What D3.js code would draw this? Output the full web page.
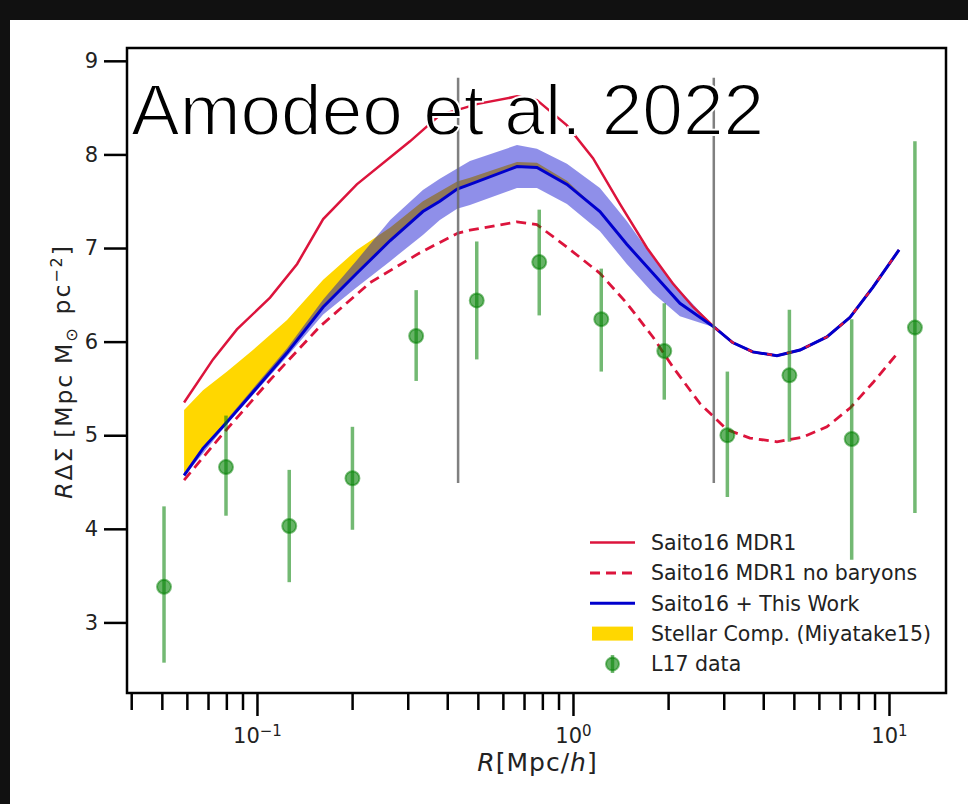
<!DOCTYPE html>
<html><head><meta charset="utf-8">
<script src="https://cdn.jsdelivr.net/npm/d3@7"></script>
<style>
html,body{margin:0;padding:0;background:#111;overflow:hidden;}
svg{display:block;}
</style></head><body>
<svg id="chart" width="968" height="804"></svg>
<script>
// ---------------- data ----------------
const saitoR = [0.0588, 0.0726, 0.0864, 0.110, 0.134, 0.162, 0.207, 0.305, 0.379, 0.50, 0.665, 0.769, 0.957, 1.157, 1.409, 1.715, 2.07, 2.40, 2.81, 3.20, 3.71, 4.42, 5.23, 6.36, 7.53, 8.89, 10.76];
const saitoV = [5.35, 5.81, 6.13, 6.47, 6.83, 7.31, 7.68, 8.14, 8.42, 8.54, 8.62, 8.58, 8.31, 7.96, 7.47, 7.00, 6.62, 6.37, 6.15, 5.99, 5.89, 5.85, 5.91, 6.05, 6.26, 6.58, 6.98];

const noBarR = [0.0588, 0.0764, 0.110, 0.158, 0.228, 0.328, 0.379, 0.433, 0.472, 0.665, 0.769, 0.957, 1.217, 1.48, 1.79, 2.07, 2.52, 3.07, 3.63, 4.42, 5.34, 6.36, 7.53, 8.89, 10.66];
const noBarV = [4.52, 4.98, 5.59, 6.16, 6.63, 6.95, 7.06, 7.16, 7.19, 7.28, 7.25, 7.01, 6.73, 6.41, 6.05, 5.73, 5.34, 5.06, 4.97, 4.93, 4.98, 5.09, 5.29, 5.56, 5.88];

const workR = [0.0588, 0.0675, 0.0804, 0.0971, 0.1245, 0.162, 0.207, 0.264, 0.335, 0.379, 0.430, 0.472, 0.665, 0.769, 0.957, 1.217, 1.48, 1.79, 2.18, 2.81, 3.20, 3.71, 4.42, 5.23, 6.36, 7.53, 8.89, 10.76];
const workV = [4.57, 4.86, 5.14, 5.46, 5.88, 6.37, 6.73, 7.08, 7.39, 7.50, 7.63, 7.68, 7.87, 7.86, 7.68, 7.39, 7.04, 6.73, 6.41, 6.15, 5.99, 5.89, 5.85, 5.91, 6.05, 6.26, 6.58, 6.98];

const bandR    = [0.0588, 0.0804, 0.1245, 0.162, 0.207, 0.264, 0.335, 0.379, 0.430, 0.472, 0.665, 0.769, 0.957, 1.217, 1.48, 1.79, 2.18, 2.81];
const bandLow  = [4.56, 5.12, 5.84, 6.29, 6.58, 6.86, 7.14, 7.30, 7.42, 7.46, 7.64, 7.64, 7.47, 7.18, 6.83, 6.52, 6.27, 6.15];
const bandHigh = [4.59, 5.17, 5.93, 6.45, 6.87, 7.30, 7.62, 7.74, 7.85, 7.93, 8.10, 8.06, 7.90, 7.64, 7.29, 6.90, 6.55, 6.15];

const stellarR    = [0.0588, 0.0675, 0.0804, 0.0971, 0.1245, 0.162, 0.207, 0.264, 0.335, 0.430, 0.472, 0.665, 0.769, 0.957, 1.217];
const stellarLow  = [4.57, 4.86, 5.14, 5.46, 5.88, 6.37, 6.73, 7.08, 7.39, 7.63, 7.68, 7.87, 7.86, 7.68, 7.39];
const stellarHigh = [5.27, 5.48, 5.68, 5.91, 6.23, 6.66, 6.98, 7.22, 7.50, 7.71, 7.75, 7.92, 7.91, 7.72, 7.39];

const dataR  = [0.0508, 0.0798, 0.1265, 0.2005, 0.319, 0.496, 0.782, 1.229, 1.945, 3.08, 4.84, 7.62, 12.08];
const dataV  = [3.38, 4.66, 4.03, 4.54, 6.06, 6.44, 6.85, 6.24, 5.90, 5.00, 5.64, 4.96, 6.15];
const dataLo = [2.57, 4.14, 3.43, 3.99, 5.58, 5.81, 6.28, 5.68, 5.38, 4.34, 4.93, 3.67, 4.17];
const dataHi = [4.24, 5.21, 4.63, 5.09, 6.55, 7.07, 7.41, 6.78, 6.41, 5.68, 6.34, 6.24, 8.14];

const vlineR = [0.433, 2.79];
const vlineSpan = [4.49, 8.82];

const xMajorTicks = [0.1, 1, 10];
const xMajorExp = ["\u22121", "0", "1"];
const xMinorTicks = [0.04,0.05,0.06,0.07,0.08,0.09,0.2,0.3,0.4,0.5,0.6,0.7,0.8,0.9,2,3,4,5,6,7,8,9];
const yTicks = [3, 4, 5, 6, 7, 8, 9];

const legendLabels = ["Saito16 MDR1", "Saito16 MDR1 no baryons", "Saito16 + This Work", "Stellar Comp. (Miyatake15)", "L17 data"];
const titleText = "Amodeo et al. 2022";

// ---------------- layout ----------------
const svg = d3.select('#chart');
svg.append('rect').attr('width', 968).attr('height', 804).attr('fill', '#111');
svg.append('rect').attr('x', 10).attr('y', 20).attr('width', 958).attr('height', 784).attr('fill', '#fff');

const L = 127, R = 946, T = 48, B = 693;
const x = d3.scaleLog().domain([0.03879, 15.15]).range([L, R]);
const y = d3.scaleLinear().domain([2.246, 9.137]).range([B, T]);
const FONT = "'DejaVu Sans', sans-serif";
const TXT = '#222';

const zip = (a, b) => a.map((v, i) => [v, b[i]]);

// stellar component (yellow)
svg.append('path')
  .datum(stellarR.map((r, i) => ({r, lo: stellarLow[i], hi: stellarHigh[i]})))
  .attr('fill', '#FFD700')
  .attr('d', d3.area().x(d => x(d.r)).y0(d => y(d.lo)).y1(d => y(d.hi)));

// this-work uncertainty band
svg.append('path')
  .datum(bandR.map((r, i) => ({r, lo: bandLow[i], hi: bandHigh[i]})))
  .attr('fill', 'rgb(0,0,205)').attr('fill-opacity', 0.44)
  .attr('d', d3.area().x(d => x(d.r)).y0(d => y(d.lo)).y1(d => y(d.hi)));

const line = d3.line().x(d => x(d[0])).y(d => y(d[1]));

// Saito16 MDR1 (solid red)
svg.append('path').datum(zip(saitoR, saitoV))
  .attr('fill', 'none').attr('stroke', '#DC143C').attr('stroke-width', 2.5)
  .attr('d', line);

// no baryons (dashed red)
svg.append('path').datum(zip(noBarR, noBarV))
  .attr('fill', 'none').attr('stroke', '#DC143C').attr('stroke-width', 2.8)
  .attr('stroke-dasharray', '10,6')
  .attr('d', line);

// Saito16 + This Work (blue)
svg.append('path').datum(zip(workR, workV))
  .attr('fill', 'none').attr('stroke', '#0000CD').attr('stroke-width', 3)
  .attr('d', line);

// red line peeking through where the two curves coincide
svg.append('path').datum(zip(saitoR, saitoV).filter(d => d[0] >= 2.81))
  .attr('fill', 'none').attr('stroke', '#DC143C').attr('stroke-width', 2.2)
  .attr('stroke-dasharray', '5,15')
  .attr('d', line);

// vertical grey lines
svg.selectAll('.vl').data(vlineR).enter().append('line')
  .attr('x1', d => x(d)).attr('x2', d => x(d))
  .attr('y1', y(vlineSpan[0])).attr('y2', y(vlineSpan[1]))
  .attr('stroke', '#6a6a6a').attr('stroke-opacity', 0.85).attr('stroke-width', 2.5);

// L17 data points
const pts = dataR.map((r, i) => ({r, v: dataV[i], lo: dataLo[i], hi: dataHi[i]}));
const gp = svg.append('g');
gp.selectAll('line').data(pts).enter().append('line')
  .attr('x1', d => x(d.r)).attr('x2', d => x(d.r))
  .attr('y1', d => y(d.lo)).attr('y2', d => y(d.hi))
  .attr('stroke', 'green').attr('stroke-opacity', 0.55).attr('stroke-width', 3.5);
gp.selectAll('circle').data(pts).enter().append('circle')
  .attr('cx', d => x(d.r)).attr('cy', d => y(d.v)).attr('r', 7)
  .attr('fill', 'green').attr('fill-opacity', 0.6)
  .attr('stroke', 'green').attr('stroke-opacity', 0.5).attr('stroke-width', 2);

// ---------------- axes ----------------
const gxMinor = svg.append('g').attr('transform', `translate(0,${B})`)
  .call(d3.axisBottom(x).tickValues(xMinorTicks).tickSize(17).tickFormat(''));
const gxMajor = svg.append('g').attr('transform', `translate(0,${B})`)
  .call(d3.axisBottom(x).tickValues(xMajorTicks).tickSize(23).tickPadding(6).tickFormat(''));
[gxMinor, gxMajor].forEach(g => {
  g.select('.domain').remove();
  g.selectAll('line').attr('stroke', '#000').attr('stroke-width', 2.5);
});
gxMajor.selectAll('.tick text').each(function(d, i) {
  const t = d3.select(this);
  t.attr('font-family', FONT).attr('font-size', 21).attr('fill', TXT).attr('dy', '1.0em');
  t.append('tspan').text('10');
  t.append('tspan').attr('dy', '-0.45em').attr('font-size', 15).text(xMajorExp[i]);
});

const gy = svg.append('g').attr('transform', `translate(${L},0)`)
  .call(d3.axisLeft(y).tickValues(yTicks).tickSize(23).tickPadding(6).tickFormat(d3.format('d')));
gy.select('.domain').remove();
gy.selectAll('line').attr('stroke', '#000').attr('stroke-width', 2.5);
gy.selectAll('text').attr('font-family', FONT).attr('font-size', 21).attr('fill', TXT);

// frame
svg.append('rect').attr('x', L).attr('y', T).attr('width', R - L).attr('height', B - T)
  .attr('fill', 'none').attr('stroke', '#000').attr('stroke-width', 2.5);

// axis labels
const xl = svg.append('text').attr('x', (L + R) / 2 + 1).attr('y', 771)
  .attr('text-anchor', 'middle').attr('font-family', FONT).attr('font-size', 25)
  .attr('letter-spacing', 1).attr('fill', TXT);
xl.append('tspan').attr('font-style', 'italic').text('R');
xl.append('tspan').text('[Mpc/');
xl.append('tspan').attr('font-style', 'italic').text('h');
xl.append('tspan').text(']');

const yl = svg.append('text').attr('transform', `translate(72,${(T + B) / 2 + 1}) rotate(-90)`)
  .attr('text-anchor', 'middle').attr('font-family', FONT).attr('font-size', 23.5)
  .attr('letter-spacing', 1.9).attr('fill', TXT);
yl.append('tspan').attr('font-style', 'italic').text('R');
yl.append('tspan').text('\u0394\u03A3');
yl.append('tspan').attr('dx', 8).text('[Mpc');
yl.append('tspan').attr('dx', 9).text('M');
yl.append('tspan').attr('dy', '0.3em').attr('font-size', 16).text('\u2299');
yl.append('tspan').attr('dy', '-0.3em').attr('dx', 12).text('pc');
yl.append('tspan').attr('dy', '-0.5em').attr('font-size', 16).text('\u22122');
yl.append('tspan').attr('dy', '0.35em').text(']');

// ---------------- legend ----------------
const legY = [542.5, 573, 603.3, 633.6, 664];
const lx0 = 590, lx1 = 635, tx = 651;
const lg = svg.append('g');
lg.append('line').attr('x1', lx0).attr('x2', lx1).attr('y1', legY[0]).attr('y2', legY[0])
  .attr('stroke', '#DC143C').attr('stroke-width', 2.5);
lg.append('line').attr('x1', lx0).attr('x2', lx1).attr('y1', legY[1]).attr('y2', legY[1])
  .attr('stroke', '#DC143C').attr('stroke-width', 2.8).attr('stroke-dasharray', '10,6');
lg.append('line').attr('x1', lx0).attr('x2', lx1).attr('y1', legY[2]).attr('y2', legY[2])
  .attr('stroke', '#0000CD').attr('stroke-width', 3);
lg.append('rect').attr('x', 592).attr('y', legY[3] - 7).attr('width', 41).attr('height', 14)
  .attr('fill', '#FFD700');
lg.append('line').attr('x1', 612.5).attr('x2', 612.5).attr('y1', legY[4] - 9).attr('y2', legY[4] + 9)
  .attr('stroke', 'green').attr('stroke-opacity', 0.55).attr('stroke-width', 3.5);
lg.append('circle').attr('cx', 612.5).attr('cy', legY[4]).attr('r', 6.5)
  .attr('fill', 'green').attr('fill-opacity', 0.6).attr('stroke', 'green').attr('stroke-opacity', 0.5).attr('stroke-width', 2);
lg.selectAll('text').data(legendLabels).enter().append('text')
  .attr('x', tx).attr('y', (d, i) => legY[i]).attr('dy', '0.36em')
  .attr('font-family', FONT).attr('font-size', 20.5).attr('fill', TXT)
  .text(d => d);

// ---------------- title overlay ----------------
svg.append('text').attr('x', 131).attr('y', 135)
  .attr('font-family', "'Liberation Sans', Arial, sans-serif")
  .attr('font-size', 73).attr('fill', '#000')
  .attr('stroke', '#fff').attr('stroke-width', 1.8).attr('paint-order', 'normal')
  .text(titleText);
</script>
</body></html>
